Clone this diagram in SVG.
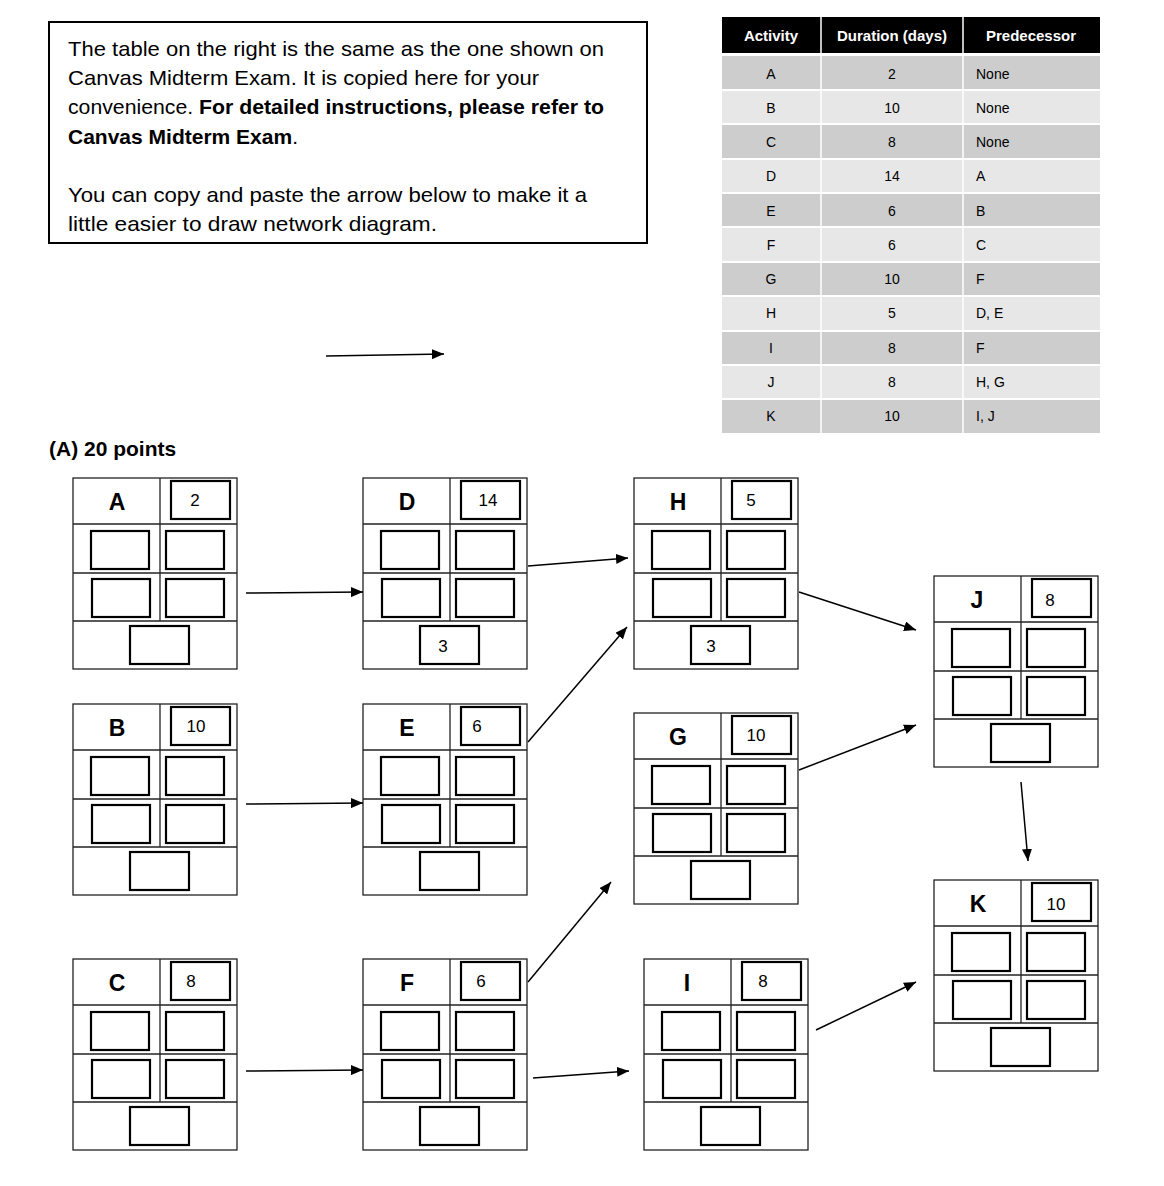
<svg xmlns="http://www.w3.org/2000/svg" xmlns:xlink="http://www.w3.org/1999/xlink" width="1164" height="1186" viewBox="0 0 1164 1186">
<style>
  text { font-family: "Liberation Sans", Arial, sans-serif; fill: #000; }
  .para { font-size: 21px; }
  .b { font-weight: bold; }
  .th { font-size: 15px; font-weight: bold; fill: #fff; text-anchor: middle; }
  .td { font-size: 14px; fill: #333; }
  .c { text-anchor: middle; }
  .grid { fill: none; stroke: #222; stroke-width: 1.3; }
  .ibox { fill: #fff; stroke: #000; stroke-width: 2.2; }
  .lbl { font-size: 23px; font-weight: bold; text-anchor: middle; }
  .num { font-size: 17px; text-anchor: middle; }
  .conn line { stroke: #000; stroke-width: 1.5; marker-end: url(#arrow); }
  .rowD { fill: #cdcdcd; }
  .rowL { fill: #e7e7e7; }
</style>
<defs>
  <marker id="arrow" markerUnits="userSpaceOnUse" markerWidth="13" markerHeight="10" refX="12" refY="5" orient="auto">
    <path d="M0,0 L12,5 L0,10 z" fill="#000"/>
  </marker>
  <g id="frame">
    <rect class="grid" x="0" y="0" width="164" height="191" fill="#fff"/>
    <line class="grid" x1="0" y1="46" x2="164" y2="46"/>
    <line class="grid" x1="0" y1="95" x2="164" y2="95"/>
    <line class="grid" x1="0" y1="143" x2="164" y2="143"/>
    <line class="grid" x1="87" y1="0" x2="87" y2="143"/>
    <rect class="ibox" x="98" y="3" width="59" height="38"/>
    <rect class="ibox" x="18" y="53" width="58" height="38"/>
    <rect class="ibox" x="93" y="53" width="58" height="38"/>
    <rect class="ibox" x="19" y="101" width="58" height="38"/>
    <rect class="ibox" x="93" y="101" width="58" height="38"/>
    <rect class="ibox" x="57" y="148" width="59" height="38"/>
  </g>
</defs>
<rect width="1164" height="1186" fill="#fff"/>

<g id="instructions">
  <rect x="49" y="22" width="598" height="221" fill="#fff" stroke="#000" stroke-width="2"/>
  <text class="para" x="68" y="56" textLength="536" lengthAdjust="spacingAndGlyphs">The table on the right is the same as the one shown on</text>
  <text class="para" x="68" y="85" textLength="471" lengthAdjust="spacingAndGlyphs">Canvas Midterm Exam. It is copied here for your</text>
  <text class="para" x="68" y="114" textLength="536" lengthAdjust="spacingAndGlyphs">convenience. <tspan class="b">For detailed instructions, please refer to</tspan></text>
  <text class="para b" x="68" y="144" textLength="230" lengthAdjust="spacingAndGlyphs">Canvas Midterm Exam<tspan font-weight="normal">.</tspan></text>
  <text class="para" x="68" y="202" textLength="519" lengthAdjust="spacingAndGlyphs">You can copy and paste the arrow below to make it a</text>
  <text class="para" x="68" y="231" textLength="369" lengthAdjust="spacingAndGlyphs">little easier to draw network diagram.</text>
</g>

<g id="activity-table">
  <rect x="722" y="17" width="378" height="36" fill="#000"/>
  <line x1="821" y1="17" x2="821" y2="53" stroke="#fff" stroke-width="1.5"/>
  <line x1="963" y1="17" x2="963" y2="53" stroke="#fff" stroke-width="1.5"/>
  <text class="th" x="771" y="41">Activity</text>
  <text class="th" x="892" y="41">Duration (days)</text>
  <text class="th" x="1031" y="41">Predecessor</text>
  <rect class="rowD" x="722" y="56" width="378" height="34"/>
  <rect class="rowL" x="722" y="90" width="378" height="34"/>
  <rect class="rowD" x="722" y="124" width="378" height="35"/>
  <rect class="rowL" x="722" y="159" width="378" height="34"/>
  <rect class="rowD" x="722" y="193" width="378" height="34"/>
  <rect class="rowL" x="722" y="227" width="378" height="35"/>
  <rect class="rowD" x="722" y="262" width="378" height="34"/>
  <rect class="rowL" x="722" y="296" width="378" height="35"/>
  <rect class="rowD" x="722" y="331" width="378" height="34"/>
  <rect class="rowL" x="722" y="365" width="378" height="34"/>
  <rect class="rowD" x="722" y="399" width="378" height="34"/>
  <g stroke="#fff" stroke-width="2">
    <line x1="722" y1="90" x2="1100" y2="90"/>
    <line x1="722" y1="124" x2="1100" y2="124"/>
    <line x1="722" y1="159" x2="1100" y2="159"/>
    <line x1="722" y1="193" x2="1100" y2="193"/>
    <line x1="722" y1="227" x2="1100" y2="227"/>
    <line x1="722" y1="262" x2="1100" y2="262"/>
    <line x1="722" y1="296" x2="1100" y2="296"/>
    <line x1="722" y1="331" x2="1100" y2="331"/>
    <line x1="722" y1="365" x2="1100" y2="365"/>
    <line x1="722" y1="399" x2="1100" y2="399"/>
    <line x1="821" y1="56" x2="821" y2="433" stroke-width="1.5"/>
    <line x1="963" y1="56" x2="963" y2="433" stroke-width="1.5"/>
  </g>
  <g class="td">
    <text class="c" x="771" y="79">A</text><text class="c" x="892" y="79">2</text><text x="976" y="79">None</text>
    <text class="c" x="771" y="113">B</text><text class="c" x="892" y="113">10</text><text x="976" y="113">None</text>
    <text class="c" x="771" y="147">C</text><text class="c" x="892" y="147">8</text><text x="976" y="147">None</text>
    <text class="c" x="771" y="181">D</text><text class="c" x="892" y="181">14</text><text x="976" y="181">A</text>
    <text class="c" x="771" y="216">E</text><text class="c" x="892" y="216">6</text><text x="976" y="216">B</text>
    <text class="c" x="771" y="250">F</text><text class="c" x="892" y="250">6</text><text x="976" y="250">C</text>
    <text class="c" x="771" y="284">G</text><text class="c" x="892" y="284">10</text><text x="976" y="284">F</text>
    <text class="c" x="771" y="318">H</text><text class="c" x="892" y="318">5</text><text x="976" y="318">D, E</text>
    <text class="c" x="771" y="353">I</text><text class="c" x="892" y="353">8</text><text x="976" y="353">F</text>
    <text class="c" x="771" y="387">J</text><text class="c" x="892" y="387">8</text><text x="976" y="387">H, G</text>
    <text class="c" x="771" y="421">K</text><text class="c" x="892" y="421">10</text><text x="976" y="421">I, J</text>
  </g>
</g>

<text id="part-a" class="b" x="49" y="456" font-size="21">(A) 20 points</text>

<g id="node-A" transform="translate(73,478)">
  <use xlink:href="#frame"/>
  <text class="lbl" x="44" y="32">A</text>
  <text class="num" x="122" y="28">2</text>
</g>
<g id="node-B" transform="translate(73,704)">
  <use xlink:href="#frame"/>
  <text class="lbl" x="44" y="32">B</text>
  <text class="num" x="123" y="28">10</text>
</g>
<g id="node-C" transform="translate(73,959)">
  <use xlink:href="#frame"/>
  <text class="lbl" x="44" y="32">C</text>
  <text class="num" x="118" y="28">8</text>
</g>
<g id="node-D" transform="translate(363,478)">
  <use xlink:href="#frame"/>
  <text class="lbl" x="44" y="32">D</text>
  <text class="num" x="125" y="28">14</text>
  <text class="num" x="80" y="174">3</text>
</g>
<g id="node-E" transform="translate(363,704)">
  <use xlink:href="#frame"/>
  <text class="lbl" x="44" y="32">E</text>
  <text class="num" x="114" y="28">6</text>
</g>
<g id="node-F" transform="translate(363,959)">
  <use xlink:href="#frame"/>
  <text class="lbl" x="44" y="32">F</text>
  <text class="num" x="118" y="28">6</text>
</g>
<g id="node-H" transform="translate(634,478)">
  <use xlink:href="#frame"/>
  <text class="lbl" x="44" y="32">H</text>
  <text class="num" x="117" y="28">5</text>
  <text class="num" x="77" y="174">3</text>
</g>
<g id="node-G" transform="translate(634,713)">
  <use xlink:href="#frame"/>
  <text class="lbl" x="44" y="32">G</text>
  <text class="num" x="122" y="28">10</text>
</g>
<g id="node-I" transform="translate(644,959)">
  <use xlink:href="#frame"/>
  <text class="lbl" x="43" y="32">I</text>
  <text class="num" x="119" y="28">8</text>
</g>
<g id="node-J" transform="translate(934,576)">
  <use xlink:href="#frame"/>
  <text class="lbl" x="43" y="32">J</text>
  <text class="num" x="116" y="30">8</text>
</g>
<g id="node-K" transform="translate(934,880)">
  <use xlink:href="#frame"/>
  <text class="lbl" x="44" y="32">K</text>
  <text class="num" x="122" y="30">10</text>
</g>

<g id="connectors" class="conn">
  <line x1="326" y1="356" x2="444" y2="354"/>
  <line x1="246" y1="593" x2="363" y2="592"/>
  <line x1="528" y1="566" x2="628" y2="558"/>
  <line x1="528" y1="742" x2="627" y2="627"/>
  <line x1="799" y1="592" x2="916" y2="630"/>
  <line x1="799" y1="770" x2="916" y2="725"/>
  <line x1="246" y1="804" x2="363" y2="803"/>
  <line x1="528" y1="982" x2="611" y2="882"/>
  <line x1="246" y1="1071" x2="363" y2="1070"/>
  <line x1="533" y1="1078" x2="629" y2="1071"/>
  <line x1="816" y1="1030" x2="916" y2="982"/>
  <line x1="1021" y1="782" x2="1028" y2="861"/>
</g>
</svg>
